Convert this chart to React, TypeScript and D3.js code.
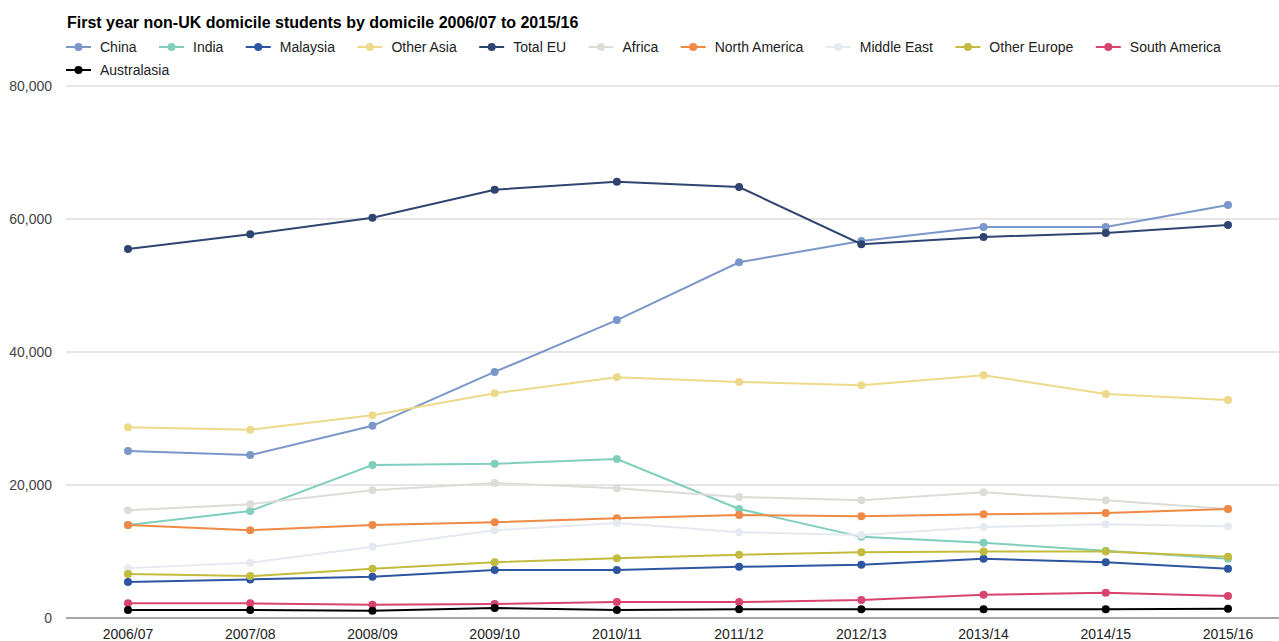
import { useEffect, useRef } from "react";
import * as d3 from "d3";

const years = ["2006/07", "2007/08", "2008/09", "2009/10", "2010/11", "2011/12", "2012/13", "2013/14", "2014/15", "2015/16"];

const china = [25100, 24500, 28900, 37000, 44800, 53500, 56700, 58800, 58800, 62100];
const india = [14000, 16100, 23000, 23200, 23900, 16400, 12200, 11300, 10100, 8900];
const malaysia = [5400, 5800, 6200, 7200, 7200, 7700, 8000, 8900, 8400, 7400];
const otherAsia = [28700, 28300, 30500, 33800, 36200, 35500, 35000, 36500, 33700, 32800];
const totalEU = [55500, 57700, 60200, 64400, 65600, 64800, 56200, 57300, 57900, 59100];
const africa = [16200, 17100, 19200, 20300, 19500, 18200, 17700, 18900, 17700, 16400];
const northAmerica = [14000, 13200, 14000, 14400, 15000, 15500, 15300, 15600, 15800, 16400];
const middleEast = [7500, 8300, 10700, 13200, 14300, 12900, 12500, 13700, 14100, 13800];
const otherEurope = [6600, 6300, 7400, 8400, 9000, 9500, 9900, 10000, 10000, 9200];
const southAmerica = [2200, 2200, 2000, 2100, 2400, 2400, 2700, 3500, 3800, 3300];
const australasia = [1200, 1200, 1100, 1500, 1200, 1300, 1300, 1300, 1300, 1400];

const yTicks = [0, 20000, 40000, 60000, 80000];

const series = [
  { name: "China", values: china, color: "#7b96c8" },
  { name: "India", values: india, color: "#80cfbd" },
  { name: "Malaysia", values: malaysia, color: "#2d55a0" },
  { name: "Other Asia", values: otherAsia, color: "#ecd98a" },
  { name: "Total EU", values: totalEU, color: "#2f4470" },
  { name: "Africa", values: africa, color: "#dcdcd8" },
  { name: "North America", values: northAmerica, color: "#ee8a45" },
  { name: "Middle East", values: middleEast, color: "#e6e9ef" },
  { name: "Other Europe", values: otherEurope, color: "#c3bb3d" },
  { name: "South America", values: southAmerica, color: "#d9436f" },
  { name: "Australasia", values: australasia, color: "#000000" },
];

const W = 1279;
const H = 641;
const font = "'Liberation Sans', Arial, sans-serif";

export default function App() {
  const svgRef = useRef<SVGSVGElement | null>(null);

  useEffect(() => {
    document.body.style.margin = "0";
    const svg = d3.select(svgRef.current);
    svg.selectAll("*").remove();

    const plotLeft = 66;
    const plotRight = W;

    const x = d3.scalePoint<string>().domain(years).range([128, 1228]);
    const y = d3.scaleLinear().domain([0, 80000]).range([618, 86]);

    // title
    svg
      .append("text")
      .attr("x", 67)
      .attr("y", 28)
      .attr("font-family", font)
      .attr("font-size", 16)
      .attr("font-weight", "bold")
      .attr("fill", "#000")
      .text("First year non-UK domicile students by domicile 2006/07 to 2015/16");

    // legend, flowing layout
    const legend = svg.append("g");
    let lx = 66;
    let ly = 47;
    series.forEach((s) => {
      const g = legend.append("g");
      const t = g
        .append("text")
        .attr("x", 34)
        .attr("y", 5)
        .attr("font-family", font)
        .attr("font-size", 14)
        .attr("fill", "#222")
        .text(s.name);
      const tw = (t.node() as SVGTextElement).getComputedTextLength();
      const itemW = 34 + tw;
      if (lx + itemW > W - 10) {
        lx = 66;
        ly += 23;
      }
      g.attr("transform", `translate(${lx},${ly})`);
      g.append("line").attr("x1", 0).attr("x2", 25).attr("stroke", s.color).attr("stroke-width", 2);
      g.append("circle").attr("cx", 12.5).attr("r", 4).attr("fill", s.color);
      lx += itemW + 22.4;
    });

    // grid
    svg
      .append("g")
      .selectAll("line")
      .data(yTicks.filter((d) => d > 0))
      .join("line")
      .attr("x1", plotLeft)
      .attr("x2", plotRight)
      .attr("y1", (d) => y(d))
      .attr("y2", (d) => y(d))
      .attr("stroke", "#cccccc")
      .attr("stroke-width", 1);

    svg
      .append("line")
      .attr("x1", plotLeft)
      .attr("x2", plotRight)
      .attr("y1", y(0))
      .attr("y2", y(0))
      .attr("stroke", "#888")
      .attr("stroke-width", 1.5);

    // y labels
    svg
      .append("g")
      .selectAll("text")
      .data(yTicks)
      .join("text")
      .attr("x", 52)
      .attr("y", (d) => y(d) + 5)
      .attr("text-anchor", "end")
      .attr("font-family", font)
      .attr("font-size", 14)
      .attr("fill", "#444")
      .text((d) => d3.format(",")(d));

    // x labels
    svg
      .append("g")
      .selectAll("text")
      .data(years)
      .join("text")
      .attr("x", (d) => x(d)!)
      .attr("y", 639)
      .attr("text-anchor", "middle")
      .attr("font-family", font)
      .attr("font-size", 14)
      .attr("fill", "#222")
      .text((d) => d);

    // lines
    const line = d3
      .line<number>()
      .x((_, i) => x(years[i])!)
      .y((d) => y(d));

    series.forEach((s) => {
      const g = svg.append("g");
      g.append("path")
        .attr("d", line(s.values))
        .attr("fill", "none")
        .attr("stroke", s.color)
        .attr("stroke-width", 2);
      g.selectAll("circle")
        .data(s.values)
        .join("circle")
        .attr("cx", (_, i) => x(years[i])!)
        .attr("cy", (d) => y(d))
        .attr("r", 4)
        .attr("fill", s.color);
    });
  }, []);

  return <svg ref={svgRef} width={W} height={H} style={{ display: "block" }}></svg>;
}
